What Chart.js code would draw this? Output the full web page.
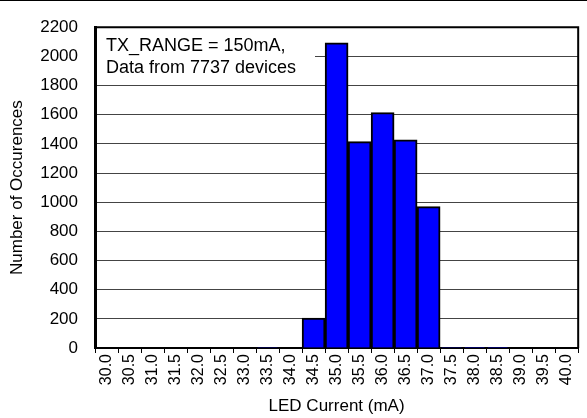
<!DOCTYPE html>
<html>
<head>
<meta charset="utf-8">
<script src="https://cdn.jsdelivr.net/npm/chart.js@4/dist/chart.umd.min.js"></script>
<style>
  html, body { margin: 0; padding: 0; background: #fff; }
  #wrap { width: 587px; height: 418px; }
</style>
</head>
<body>
<div id="wrap"><canvas id="myChart" width="587" height="418"></canvas></div>
<script>
// ***********histogram data***********
const currentBins = ['30.0','30.5','31.0','31.5','32.0','32.5','33.0','33.5','34.0','34.5','35.0',
  '35.5','36.0','36.5','37.0','37.5','38.0','38.5','39.0','39.5','40.0'];
const occurences = [0,0,0,0,0,0,0,4,0,206,2092,1415,1615,1428,970,3,2,2,0,0,0];
const noteLines = ['TX_RANGE = 150mA,', 'Data from 7737 devices'];
const yMax = 2200;
const yStep = 200;

const FONT = 'Arial, "Liberation Sans", sans-serif';

// ********note box + frame******
const notePlugin = {
  id: 'noteBox',
  beforeDatasetsDraw(chart) {
    const {ctx, chartArea} = chart;
    ctx.save();
    ctx.fillStyle = '#fff';
    ctx.fillRect(chartArea.left + 2, chartArea.top + 2, 218, 46);
    ctx.fillStyle = '#000';
    ctx.font = '18px ' + FONT;
    ctx.textBaseline = 'alphabetic';
    noteLines.forEach((t, i) => ctx.fillText(t, chartArea.left + 11, chartArea.top + 24 + i * 22));
    ctx.restore();
  },
  afterDraw(chart) {
    const {ctx, chartArea} = chart;
    ctx.save();
    ctx.strokeStyle = '#000';
    ctx.lineWidth = 2;
    ctx.beginPath();
    ctx.moveTo(chartArea.left, chartArea.top);
    ctx.lineTo(chartArea.right, chartArea.top);
    ctx.lineTo(chartArea.right, chartArea.bottom);
    ctx.stroke();
    ctx.fillStyle = '#000';
    ctx.fillRect(0, 0, chart.width, 1);
    ctx.restore();
  }
};

const ctx = document.getElementById('myChart');
new Chart(ctx, {
  type: 'bar',
  data: {
    labels: currentBins,
    datasets: [{
      data: occurences,
      backgroundColor: '#0000ff',
      borderColor: '#000',
      borderWidth: 2,
      barPercentage: 1,
      categoryPercentage: 1
    }]
  },
  options: {
    responsive: false,
    animation: false,
    layout: { padding: { top: 17, right: 5, left: 0, bottom: 0 } },
    plugins: { legend: { display: false }, tooltip: { enabled: false } },
    scales: {
      x: {
        afterFit(scale) { scale.height = 70; },
        grid: { offset: true, drawOnChartArea: false, drawTicks: true, tickLength: 5, color: '#000', lineWidth: 1 },
        border: { color: '#000', width: 2 },
        ticks: { color: '#000', font: { family: FONT, size: 16 }, minRotation: 90, maxRotation: 90, padding: 1, autoSkip: false },
        title: { display: true, text: 'LED Current (mA)', color: '#000', font: { family: FONT, size: 17 }, padding: { top: 0, bottom: 1 } }
      },
      y: {
        min: 0,
        max: yMax,
        afterFit(scale) { scale.width = 95; },
        grid: { drawTicks: false, color: '#444', lineWidth: 1 },
        border: { color: '#000', width: 3 },
        ticks: { stepSize: yStep, color: '#000', font: { family: FONT, size: 17 }, padding: 17, callback: v => String(v) },
        title: { display: true, text: 'Number of Occurences', color: '#000', font: { family: FONT, size: 17 }, padding: { top: 7, bottom: 0 } }
      }
    }
  },
  plugins: [notePlugin]
});
</script>
</body>
</html>
